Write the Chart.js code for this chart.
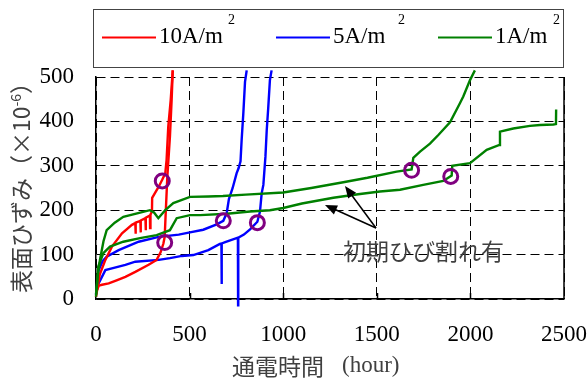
<!DOCTYPE html>
<html>
<head>
<meta charset="utf-8">
<script src="https://cdn.jsdelivr.net/npm/chart.js@4/dist/chart.umd.min.js"></script>
<style>
  html, body { margin: 0; padding: 0; background: #fff; }
  canvas { display: block; }
</style>
</head>
<body>
<canvas id="myChart" width="587" height="381"></canvas>
<script>

// 10A/m2 (two specimens)
var hours10a_1 = [0, 8, 20, 50, 85, 139, 192, 210, 211, 213, 237, 238, 240, 264, 265, 267, 288, 289, 291, 299, 300, 335, 353, 370, 377, 386, 399, 410];
var strain10a_1 = [5, 25, 55, 88, 118, 148, 167, 171, 147, 172, 176, 150, 177, 182, 155, 183, 188, 160, 190, 197, 228, 253, 268, 283, 313, 388, 448, 515];
var hours10a_2 = [0, 15, 32, 68, 110, 157, 210, 281, 324, 345, 360, 367, 372, 381, 395, 404, 410];
var strain10a_2 = [15, 30, 32, 35, 42, 50, 61, 77, 88, 105, 125, 140, 190, 275, 366, 448, 515];

// 5A/m2
var hours5a_1 = [0, 14, 35, 57, 121, 228, 335, 442, 502, 573, 645, 680, 698, 710, 730, 751, 762, 772, 778, 787, 796, 805];
var strain5a_1 = [10, 65, 85, 95, 110, 129, 140, 145, 150, 156, 168, 176, 193, 225, 250, 283, 295, 310, 358, 418, 489, 515];
var hours5a_2 = [0, 14, 50, 85, 157, 210, 335, 395, 459, 520, 600, 662, 670, 671, 672, 690, 751, 758, 759, 760, 790, 823, 862, 876, 885, 894, 905, 912, 920, 929, 938];
var strain5a_2 = [13, 35, 65, 69, 77, 84, 88, 92, 97, 99, 110, 124, 125, 34, 125, 128, 137, 138, -14, 138, 145, 157, 174, 197, 238, 257, 320, 380, 430, 493, 515];

// 1A/m2
var hours1a_1 = [0, 10, 21, 40, 57, 100, 146, 220, 288, 310, 333, 370, 413, 502, 600, 678, 800, 1000, 1150, 1321, 1450, 1606, 1686, 1695, 1731, 1784, 1830, 1891, 1944, 1962, 1998, 2024];
var strain1a_1 = [10, 55, 88, 130, 155, 172, 185, 193, 200, 195, 182, 200, 216, 230, 231, 232, 235, 240, 250, 263, 273, 287, 292, 318, 332, 350, 370, 398, 441, 456, 493, 515];
var hours1a_2 = [0, 12, 39, 75, 146, 235, 324, 395, 431, 502, 556, 700, 823, 929, 1000, 1100, 1268, 1400, 1517, 1624, 1748, 1855, 1900, 1903, 1998, 2087, 2155, 2158, 2229, 2318, 2372, 2443, 2457, 2458];
var strain1a_2 = [5, 73, 103, 118, 129, 137, 144, 155, 182, 189, 189, 192, 197, 200, 205, 215, 228, 236, 242, 246, 257, 266, 278, 300, 306, 336, 347, 377, 384, 390, 392, 393, 394, 427];

// purple circles (crack marks)
var markHours = [354, 367, 680, 862, 1686, 1895];
var markStrain = [266, 127, 176, 172, 290, 276];

var xTicks = [500, 1000, 1500, 2000];

function toPoints(xs, ys) {
    var pts = [];
    for (var i = 0; i < xs.length; i++) {
        pts.push({ x: xs[i], y: ys[i] });
    }
    return pts;
}

function curve(xs, ys, color) {
    return {
        data: toPoints(xs, ys),
        showLine: true,
        borderColor: color,
        backgroundColor: color,
        borderWidth: 2.4,
        pointRadius: 0,
        clip: { left: 2, top: 10, right: 2, bottom: 8 }
    };
}

var serif = '"Liberation Serif", "Times New Roman", serif';
var cjk = '"Noto Sans CJK JP", "Noto Sans CJK SC", sans-serif';

// legend, titles, annotation and frame drawn by hand
var extras = {
    id: 'extras',
    afterDraw: function (chart) {
        var ctx = chart.ctx;
        var area = chart.chartArea;
        var xs = chart.scales.x;
        ctx.save();

        // right frame line + small inner ticks on the time axis
        ctx.strokeStyle = '#000';
        ctx.lineWidth = 1.5;
        ctx.beginPath();
        ctx.moveTo(area.right, area.top);
        ctx.lineTo(area.right, area.bottom);
        xTicks.forEach(function (t) {
            var px = Math.round(xs.getPixelForValue(t)) + 0.5;
            ctx.moveTo(px, area.bottom);
            ctx.lineTo(px, area.bottom - 6);
        });
        ctx.stroke();

        // legend box
        ctx.lineWidth = 1;
        ctx.strokeStyle = '#444';
        ctx.strokeRect(93.5, 9.5, 470, 58);
        var items = [
            { x: 102, color: '#ff0000', text: '10A/m', sup: 228 },
            { x: 276, color: '#0000ff', text: '5A/m', sup: 398 },
            { x: 438, color: '#008000', text: '1A/m', sup: 553 }
        ];
        items.forEach(function (it) {
            ctx.strokeStyle = it.color;
            ctx.lineWidth = 2;
            ctx.beginPath();
            ctx.moveTo(it.x, 37.5);
            ctx.lineTo(it.x + 54, 37.5);
            ctx.stroke();
            ctx.fillStyle = '#000';
            ctx.textAlign = 'left';
            ctx.textBaseline = 'alphabetic';
            ctx.font = '23px ' + serif;
            ctx.fillText(it.text, it.x + 57, 43);
            ctx.font = '14px ' + serif;
            ctx.fillText('2', it.sup, 24);
        });

        // x axis title
        ctx.fillStyle = '#404040';
        ctx.font = '23px ' + cjk;
        ctx.fillText('通電時間', 232, 375);
        ctx.font = '23px ' + serif;
        ctx.fillText('(hour)', 342, 372);

        // y axis title, rotated
        ctx.save();
        ctx.translate(30, 182);
        ctx.rotate(-Math.PI / 2);
        var partA = '表面ひずみ（×10';
        var partB = '-6';
        var partC = '）';
        ctx.font = '23px ' + cjk;
        var wA = ctx.measureText(partA).width;
        var wC = ctx.measureText(partC).width;
        ctx.font = '14px ' + cjk;
        var wB = ctx.measureText(partB).width;
        var start = -(wA + wB + wC) / 2;
        ctx.font = '23px ' + cjk;
        ctx.fillText(partA, start, 0);
        ctx.font = '14px ' + cjk;
        ctx.fillText(partB, start + wA, -9);
        ctx.font = '23px ' + cjk;
        ctx.fillText(partC, start + wA + wB, 0);
        ctx.restore();

        // annotation with arrows
        ctx.font = '23px ' + cjk;
        ctx.fillStyle = '#404040';
        ctx.fillText('初期ひび割れ有', 343, 260);
        var tail = [376, 228];
        var tips = [[345, 186], [325, 205]];
        ctx.strokeStyle = '#000';
        ctx.fillStyle = '#000';
        ctx.lineWidth = 1.5;
        tips.forEach(function (tp) {
            var ang = Math.atan2(tp[1] - tail[1], tp[0] - tail[0]);
            ctx.beginPath();
            ctx.moveTo(tail[0], tail[1]);
            ctx.lineTo(tp[0] - 8 * Math.cos(ang), tp[1] - 8 * Math.sin(ang));
            ctx.stroke();
            ctx.beginPath();
            ctx.moveTo(tp[0], tp[1]);
            ctx.lineTo(tp[0] - 12 * Math.cos(ang) + 5 * Math.sin(ang), tp[1] - 12 * Math.sin(ang) - 5 * Math.cos(ang));
            ctx.lineTo(tp[0] - 12 * Math.cos(ang) - 5 * Math.sin(ang), tp[1] - 12 * Math.sin(ang) + 5 * Math.cos(ang));
            ctx.closePath();
            ctx.fill();
        });

        ctx.restore();
    }
};

var ctx = document.getElementById('myChart').getContext('2d');

var myChart = new Chart(ctx, {
    type: 'scatter',
    data: {
        datasets: [
            {
                data: toPoints(markHours, markStrain),
                showLine: false,
                pointStyle: 'circle',
                pointRadius: 7,
                pointBorderWidth: 3,
                pointBorderColor: '#800080',
                pointBackgroundColor: 'rgba(0,0,0,0)'
            },
            curve(hours1a_1, strain1a_1, '#008000'),
            curve(hours1a_2, strain1a_2, '#008000'),
            curve(hours10a_1, strain10a_1, '#ff0000'),
            curve(hours10a_2, strain10a_2, '#ff0000'),
            curve(hours5a_1, strain5a_1, '#0000ff'),
            curve(hours5a_2, strain5a_2, '#0000ff')
        ]
    },
    options: {
        responsive: false,
        animation: false,
        events: [],
        layout: {
            padding: { left: 0, top: 77, right: 23, bottom: 0 }
        },
        plugins: {
            legend: { display: false },
            tooltip: { enabled: false }
        },
        scales: {
            x: {
                type: 'linear',
                min: 0,
                max: 2500,
                afterFit: function (scale) {
                    scale.height = 82;
                    scale.paddingLeft = 0;
                    scale.paddingRight = 0;
                },
                ticks: {
                    stepSize: 500,
                    padding: 22,
                    maxRotation: 0,
                    color: '#000',
                    font: { family: serif, size: 23 },
                    callback: function (v) { return String(v); }
                },
                grid: { color: '#000', lineWidth: 1, drawTicks: false },
                border: { color: '#000', width: 1.5, dash: [9, 5] }
            },
            y: {
                min: 0,
                max: 500,
                afterFit: function (scale) {
                    scale.width = 96;
                    scale.paddingTop = 0;
                    scale.paddingBottom = 0;
                },
                ticks: {
                    stepSize: 100,
                    padding: 22,
                    color: '#000',
                    font: { family: serif, size: 23 },
                    callback: function (v) { return String(v); }
                },
                grid: { color: '#000', lineWidth: 1, drawTicks: false },
                border: { color: '#000', width: 1.5, dash: [9, 5] }
            }
        }
    },
    plugins: [extras]
});

</script>
</body>
</html>
